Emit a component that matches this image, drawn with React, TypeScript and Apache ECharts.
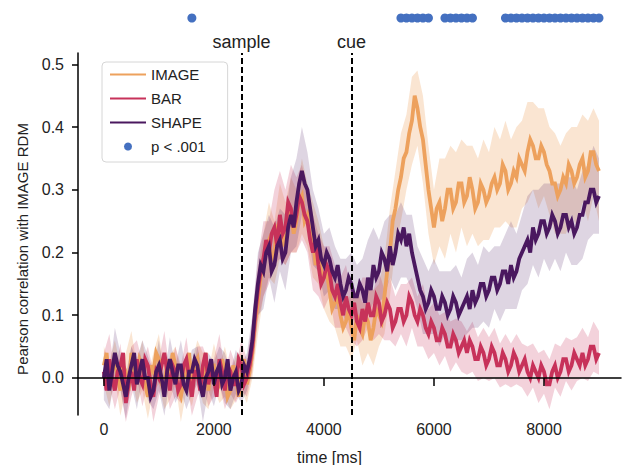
import React, { useEffect, useRef } from "react";
import * as echarts from "echarts";

const LINE_STEP_MS = 50;
const BAND_STEP_MS = 100;

const IMAGE_MEAN = [
  0.02, 0.04, -0.01, 0.01, 0.03, 0.0, -0.02, 0.02, 0.01, -0.02, 0.04, 0.01, -0.01, 0.03, 0.02, -0.01, -0.03, 0.02, 0.01, 0.04,
  0.03, -0.01, -0.02, 0.03, 0.0, 0.04, 0.02, -0.02, -0.03, 0.0, 0.01, 0.04, -0.01, 0.02, 0.03, -0.01, 0.0, 0.04, -0.02, 0.02,
  0.02, -0.02, -0.01, 0.03, 0.01, -0.03, -0.02, 0.02, 0.0, -0.03, 0.01, 0.03, -0.01, 0.01, 0.04, 0.09, 0.12, 0.16, 0.18, 0.21,
  0.22, 0.19, 0.2, 0.24, 0.25, 0.21, 0.23, 0.27, 0.26, 0.23, 0.25, 0.28, 0.29, 0.25, 0.26, 0.23, 0.22, 0.18, 0.2, 0.17,
  0.16, 0.17, 0.14, 0.11, 0.12, 0.13, 0.1, 0.08, 0.09, 0.11, 0.08, 0.06, 0.1, 0.08, 0.07, 0.1, 0.09, 0.06, 0.08, 0.11,
  0.1, 0.09, 0.13, 0.17, 0.2, 0.25, 0.27, 0.3, 0.32, 0.35, 0.36, 0.39, 0.41, 0.45, 0.43, 0.4, 0.38, 0.34, 0.3, 0.27,
  0.24, 0.27, 0.28, 0.25, 0.27, 0.3, 0.3, 0.27, 0.28, 0.31, 0.31, 0.28, 0.29, 0.32, 0.3, 0.27, 0.28, 0.31, 0.3, 0.28,
  0.29, 0.31, 0.32, 0.3, 0.31, 0.34, 0.33, 0.3, 0.31, 0.33, 0.32, 0.35, 0.34, 0.33, 0.36, 0.38, 0.37, 0.35, 0.35, 0.37,
  0.36, 0.34, 0.33, 0.31, 0.31, 0.29, 0.3, 0.32, 0.31, 0.34, 0.33, 0.31, 0.32, 0.34, 0.35, 0.32, 0.33, 0.36, 0.36, 0.34,
  0.33,
];
const BAR_MEAN = [
  0.01, -0.02, 0.03, 0.0, -0.02, 0.01, 0.02, 0.04, -0.04, -0.01, 0.01, -0.02, 0.03, 0.0, -0.01, 0.03, 0.02, -0.01, -0.03, 0.01,
  0.0, 0.02, 0.04, 0.01, -0.02, 0.02, 0.01, -0.02, -0.01, 0.02, 0.03, 0.0, -0.03, 0.01, 0.01, -0.02, 0.02, 0.04, -0.01, 0.01,
  0.0, -0.03, 0.03, 0.01, -0.02, 0.02, 0.01, -0.01, -0.01, 0.03, 0.02, -0.01, 0.0, 0.02, 0.05, 0.1, 0.14, 0.17, 0.19, 0.22,
  0.2, 0.23, 0.24, 0.21, 0.26, 0.23, 0.24, 0.28, 0.27, 0.24, 0.26, 0.29, 0.28, 0.26, 0.25, 0.22, 0.2, 0.22, 0.18, 0.15,
  0.16, 0.18, 0.17, 0.14, 0.13, 0.15, 0.12, 0.1, 0.13, 0.11, 0.1, 0.12, 0.09, 0.08, 0.11, 0.09, 0.12, 0.1, 0.1, 0.13,
  0.12, 0.09, 0.1, 0.12, 0.11, 0.08, 0.09, 0.11, 0.11, 0.09, 0.1, 0.13, 0.12, 0.1, 0.09, 0.11, 0.1, 0.08, 0.07, 0.09,
  0.08, 0.06, 0.06, 0.08, 0.07, 0.05, 0.05, 0.07, 0.06, 0.04, 0.05, 0.06, 0.04, 0.06, 0.05, 0.03, 0.03, 0.05, 0.04, 0.02,
  0.03, 0.05, 0.04, 0.02, 0.02, 0.04, 0.03, 0.01, 0.02, 0.04, 0.03, 0.01, 0.02, 0.03, 0.01, 0.0, 0.02, 0.01, 0.0, 0.02,
  0.01, -0.01, -0.01, 0.01, 0.02, 0.0, 0.01, 0.03, 0.03, 0.01, 0.02, 0.04, 0.03, 0.02, 0.04, 0.02, 0.03, 0.05, 0.05, 0.03,
  0.04,
];
const SHAPE_MEAN = [
  0.0, 0.03, -0.02, 0.01, 0.04, 0.02, 0.01, -0.01, -0.03, 0.0, 0.02, 0.04, -0.01, 0.01, 0.03, 0.0, 0.0, -0.03, -0.02, 0.01,
  0.02, 0.0, -0.03, 0.01, 0.03, 0.01, -0.01, 0.02, 0.02, -0.01, -0.02, 0.01, 0.01, 0.03, 0.02, -0.01, -0.03, 0.0, 0.01, 0.03,
  -0.01, 0.01, 0.02, -0.01, 0.0, 0.03, -0.02, 0.0, 0.01, -0.02, -0.01, 0.02, 0.01, 0.03, 0.06, 0.11, 0.15, 0.18, 0.17, 0.2,
  0.21, 0.17, 0.18, 0.21, 0.22, 0.19, 0.2, 0.24, 0.26, 0.24, 0.28, 0.31, 0.33, 0.31, 0.3, 0.27, 0.24, 0.21, 0.22, 0.19,
  0.18, 0.2, 0.19, 0.17, 0.16, 0.18, 0.15, 0.13, 0.14, 0.16, 0.15, 0.13, 0.13, 0.15, 0.14, 0.12, 0.16, 0.14, 0.18, 0.16,
  0.17, 0.2, 0.19, 0.17, 0.21, 0.18, 0.2, 0.23, 0.22, 0.24, 0.21, 0.23, 0.2, 0.18, 0.16, 0.14, 0.13, 0.11, 0.12, 0.14,
  0.13, 0.11, 0.11, 0.13, 0.12, 0.1, 0.11, 0.13, 0.12, 0.1, 0.11, 0.12, 0.13, 0.11, 0.14, 0.12, 0.13, 0.15, 0.15, 0.13,
  0.14, 0.16, 0.16, 0.14, 0.15, 0.17, 0.17, 0.15, 0.18, 0.16, 0.17, 0.19, 0.2, 0.21, 0.22, 0.2, 0.24, 0.22, 0.23, 0.25,
  0.25, 0.23, 0.24, 0.26, 0.25, 0.23, 0.24, 0.26, 0.26, 0.24, 0.25, 0.23, 0.24, 0.26, 0.26, 0.28, 0.28, 0.3, 0.3, 0.28,
  0.29,
];

const IMAGE_CI = [
  0.03, 0.035, 0.03, 0.04, 0.03, 0.035, 0.03, 0.04, 0.035, 0.03, 0.04, 0.03, 0.035, 0.03, 0.04, 0.03, 0.035, 0.03, 0.04, 0.03, 0.035, 0.03, 0.04, 0.03, 0.035, 0.03,
  0.03, 0.04, 0.05, 0.05, 0.06, 0.05, 0.06, 0.05, 0.06, 0.05, 0.06, 0.05, 0.06, 0.05, 0.05,
  0.05, 0.04, 0.05, 0.04, 0.05, 0.04, 0.05, 0.05, 0.06, 0.05,
  0.06, 0.07, 0.06, 0.07, 0.06, 0.07, 0.06, 0.07, 0.07, 0.06,
  0.07, 0.08, 0.07, 0.08, 0.07, 0.08, 0.07, 0.07, 0.08, 0.07, 0.08, 0.07, 0.08, 0.07, 0.08,
  0.07, 0.08, 0.07, 0.08, 0.07, 0.07, 0.08, 0.07, 0.08, 0.07, 0.08, 0.07, 0.08, 0.07, 0.08,
];
const BAR_CI = [
  0.03, 0.04, 0.03, 0.035, 0.03, 0.04, 0.03, 0.035, 0.03, 0.04, 0.03, 0.035, 0.03, 0.04, 0.03, 0.035, 0.03, 0.04, 0.03, 0.035, 0.03, 0.04, 0.03, 0.035, 0.03, 0.04,
  0.03, 0.04, 0.05, 0.06, 0.05, 0.06, 0.07, 0.06, 0.07, 0.06, 0.06, 0.05, 0.06, 0.05, 0.05,
  0.04, 0.05, 0.04, 0.05, 0.04, 0.04, 0.05, 0.04, 0.04, 0.05,
  0.04, 0.05, 0.04, 0.04, 0.05, 0.04, 0.04, 0.05, 0.04, 0.04,
  0.04, 0.035, 0.04, 0.035, 0.04, 0.035, 0.04, 0.035, 0.04, 0.035, 0.04, 0.035, 0.04, 0.035, 0.04,
  0.035, 0.04, 0.035, 0.04, 0.035, 0.04, 0.035, 0.04, 0.035, 0.04, 0.035, 0.04, 0.035, 0.04, 0.035,
];
const SHAPE_CI = [
  0.035, 0.03, 0.04, 0.03, 0.035, 0.03, 0.04, 0.03, 0.035, 0.03, 0.04, 0.03, 0.035, 0.03, 0.04, 0.03, 0.035, 0.03, 0.04, 0.03, 0.035, 0.03, 0.04, 0.03, 0.035, 0.03,
  0.03, 0.04, 0.05, 0.06, 0.05, 0.06, 0.05, 0.06, 0.06, 0.07, 0.07, 0.06, 0.06, 0.05, 0.05,
  0.05, 0.05, 0.04, 0.05, 0.05, 0.05, 0.05, 0.06, 0.06, 0.05,
  0.06, 0.05, 0.06, 0.06, 0.05, 0.06, 0.05, 0.06, 0.05, 0.06,
  0.06, 0.05, 0.06, 0.06, 0.05, 0.06, 0.06, 0.05, 0.06, 0.06, 0.05, 0.06, 0.06, 0.07, 0.06,
  0.06, 0.07, 0.06, 0.07, 0.06, 0.07, 0.06, 0.07, 0.06, 0.07, 0.06, 0.07, 0.06, 0.07, 0.06,
];

const SIG_TIMES = [
  1600,
  5400, 5500, 5600, 5700, 5800, 5900,
  6200, 6300, 6400, 6500, 6600, 6700,
  7300, 7400, 7500, 7600, 7700, 7800, 7900, 8000, 8100, 8200, 8300, 8400, 8500, 8600, 8700, 8800, 8900, 9000,
];

const X_TICKS = [0, 2000, 4000, 6000, 8000];
const Y_TICKS = [0, 0.1, 0.2, 0.3, 0.4, 0.5];
const EVENT_NAMES = ["sample", "cue"];
const EVENT_TIMES = [2500, 4500];

const SERIES_NAMES = ["IMAGE", "BAR", "SHAPE"];
const SIG_NAME = "p < .001";

const COLORS = ["#eda15d", "#c7325a", "#4a185f"];
const BAND_COLORS = ["rgba(237,161,93,0.28)", "rgba(199,50,90,0.22)", "rgba(74,24,95,0.18)"];
const SIG_COLOR = "#4470c0";
const FONT = "Liberation Sans, Arial, Helvetica, sans-serif";
const TEXT_COLOR = "#222";

const lineTimes = IMAGE_MEAN.map((_, i) => i * LINE_STEP_MS);
const bandTimes = IMAGE_CI.map((_, i) => i * BAND_STEP_MS);
const RATIO = BAND_STEP_MS / LINE_STEP_MS;

function bandSeries(key: string, mean: number[], ci: number[], color: string) {
  return {
    name: key + "_band",
    type: "custom",
    silent: true,
    z: 1,
    data: [[bandTimes[0], mean[0]]],
    renderItem: (_params: any, api: any) => {
      const upper = bandTimes.map((t, i) => api.coord([t, mean[i * RATIO] + ci[i]]));
      const lower = bandTimes.map((t, i) => api.coord([t, mean[i * RATIO] - ci[i]])).reverse();
      return {
        type: "polygon",
        shape: { points: upper.concat(lower) },
        style: { fill: color },
      };
    },
  };
}

export default function App() {
  const ref = useRef<HTMLDivElement>(null);
  useEffect(() => {
    document.body.style.margin = "0";
    if (!ref.current) return;
    const chart = echarts.init(ref.current, null, { renderer: "svg" });
    const means = [IMAGE_MEAN, BAR_MEAN, SHAPE_MEAN];
    const cis = [IMAGE_CI, BAR_CI, SHAPE_CI];
    const bands: any[] = SERIES_NAMES.map((n, k) => bandSeries(n, means[k], cis[k], BAND_COLORS[k]));
    const lines: any[] = SERIES_NAMES.map((n, k) => ({
      name: n,
      type: "line",
      data: lineTimes.map((t, i) => [t, means[k][i]]),
      symbol: "none",
      lineStyle: { color: COLORS[k], width: 3.8, join: "miter" },
      itemStyle: { color: COLORS[k] },
      z: 2,
    }));
    lines[2].markLine = {
      symbol: "none",
      silent: true,
      animation: false,
      lineStyle: { color: "#000", type: [6, 3], width: 2 },
      label: { show: true, position: "end", formatter: "{b}", fontSize: 18, color: TEXT_COLOR, fontFamily: FONT, distance: 2 },
      data: EVENT_TIMES.map((t, i) => ({ name: EVENT_NAMES[i], xAxis: t })),
    };
    const option: any = {
      animation: false,
      textStyle: { fontFamily: FONT },
      grid: [
        { left: 78, right: 5, top: 53, bottom: 50, outerBoundsMode: "none", containLabel: false },
        { left: 78, right: 5, top: 10, height: 16, outerBoundsMode: "none", containLabel: false },
      ],
      legend: {
        data: [
          ...SERIES_NAMES.map((n) => ({ name: n, itemStyle: { opacity: 0 } })),
          { name: SIG_NAME },
        ],
        orient: "vertical",
        left: 102,
        top: 62,
        itemWidth: 36,
        itemHeight: 8,
        itemGap: 9,
        padding: [5, 22, 8, 7],
        borderColor: "#d6d6d6",
        borderWidth: 1,
        borderRadius: 4,
        backgroundColor: "#fff",
        lineStyle: { width: 2 },
        textStyle: { fontSize: 15, color: TEXT_COLOR, fontFamily: FONT },
        selectedMode: false,
      },
      xAxis: [
        {
          type: "value",
          gridIndex: 0,
          min: -470,
          max: 9400,
          z: 5,
          axisLine: { show: true, onZero: true, lineStyle: { color: "#000", width: 1.5 } },
          axisTick: { show: true, customValues: X_TICKS, length: 8, lineStyle: { color: "#000", width: 1.5 } },
          axisLabel: {
            customValues: X_TICKS,
            formatter: (v: number) => String(v),
            margin: 6,
            fontSize: 16,
            color: TEXT_COLOR,
            fontFamily: FONT,
          },
          splitLine: { show: false },
          name: "time [ms]",
          nameLocation: "middle",
          nameGap: 34,
          nameTextStyle: { fontSize: 16, color: TEXT_COLOR, fontFamily: FONT, padding: [0, 40, 0, 0] },
        },
        { type: "value", gridIndex: 1, min: -470, max: 9400, show: false },
      ],
      yAxis: [
        {
          type: "value",
          gridIndex: 0,
          min: -0.059,
          max: 0.518,
          axisLine: { show: true, onZero: false, lineStyle: { color: "#000", width: 1.5 } },
          axisTick: { show: true, customValues: Y_TICKS, length: 6, lineStyle: { color: "#000", width: 1.5 } },
          axisLabel: {
            customValues: Y_TICKS,
            formatter: (v: number) => v.toFixed(1),
            margin: 14,
            fontSize: 16,
            color: TEXT_COLOR,
            fontFamily: FONT,
          },
          splitLine: { show: false },
          name: "Pearson correlation with IMAGE RDM",
          nameLocation: "middle",
          nameGap: 48,
          nameTextStyle: { fontSize: 15, color: TEXT_COLOR, fontFamily: FONT, padding: [0, 30, 0, 0] },
        },
        { type: "value", gridIndex: 1, min: -1, max: 1, show: false },
      ],
      series: [
        ...bands,
        ...lines,
        {
          name: SIG_NAME,
          type: "scatter",
          xAxisIndex: 1,
          yAxisIndex: 1,
          data: SIG_TIMES.map((t) => [t, 0]),
          symbolSize: 9,
          itemStyle: { color: SIG_COLOR, opacity: 1 },
          silent: true,
        },
      ],
    };
    chart.setOption(option);
    return () => chart.dispose();
  }, []);
  return <div ref={ref} style={{ width: 626, height: 465 }} />;
}
